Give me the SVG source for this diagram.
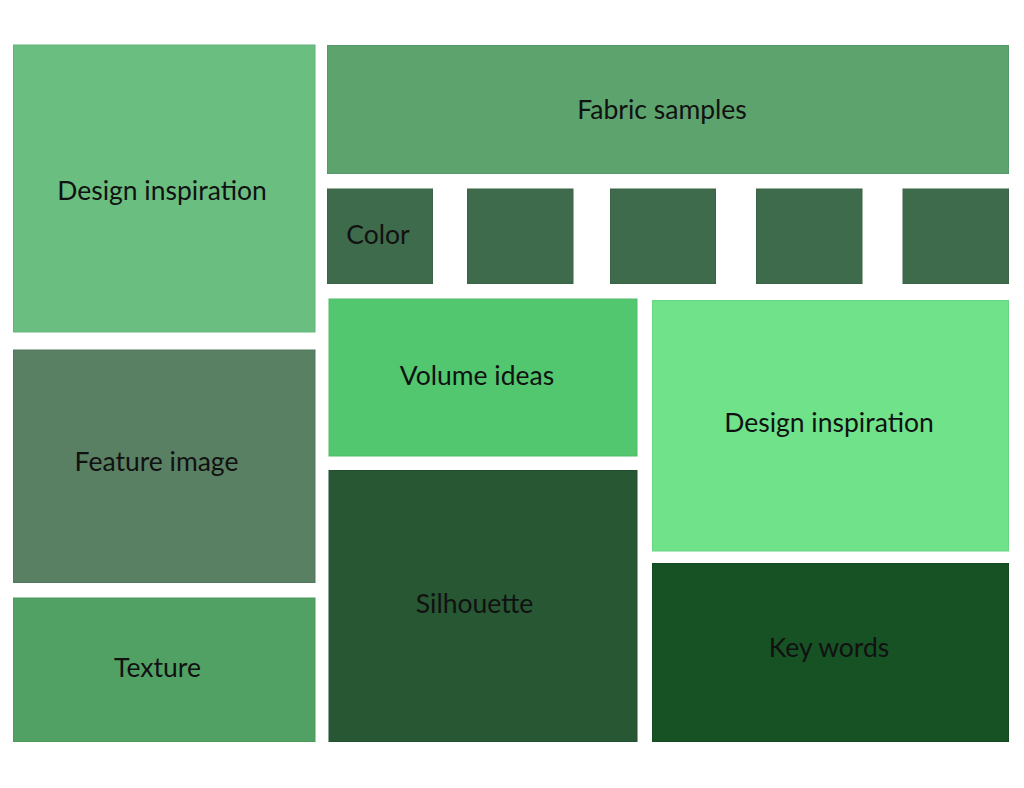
<svg xmlns="http://www.w3.org/2000/svg" width="1024" height="788" viewBox="0 0 1024 788">
<style>
.b{stroke-width:1}
.t{font-family:Lato,"Open Sans","Liberation Sans",sans-serif;font-size:26.5px;fill:#111;text-anchor:middle}
</style>
<rect width="1024" height="788" fill="#fff"/>
<g id="design-inspiration-1"><rect class="b" x="13.5" y="45" width="301.5" height="287" fill="#6ABF80" stroke="#64B47A"/><text class="t" x="162" y="200">Design inspiration</text></g>
<g id="fabric-samples"><rect class="b" x="327.5" y="45.5" width="681" height="128" fill="#5CA36D" stroke="#55986A"/><text class="t" x="662" y="119">Fabric samples</text></g>
<g id="color"><rect class="b" x="327.5" y="189" width="105" height="94.5" fill="#3E6B4B" stroke="#3A6446"/><text class="t" x="378" y="244">Color</text></g>
<g id="swatch-2"><rect class="b" x="467.5" y="189" width="105.5" height="94.5" fill="#3E6B4B" stroke="#3A6446"/></g>
<g id="swatch-3"><rect class="b" x="610.5" y="189" width="105" height="94.5" fill="#3E6B4B" stroke="#3A6446"/></g>
<g id="swatch-4"><rect class="b" x="756.5" y="189" width="105.5" height="94.5" fill="#3E6B4B" stroke="#3A6446"/></g>
<g id="swatch-5"><rect class="b" x="903" y="189" width="105.5" height="94.5" fill="#3E6B4B" stroke="#3A6446"/></g>
<g id="volume-ideas"><rect class="b" x="329" y="299" width="308" height="157" fill="#52C76F" stroke="#4DBD69"/><text class="t" x="477" y="385">Volume ideas</text></g>
<g id="design-inspiration-2"><rect class="b" x="652.5" y="300.5" width="356" height="250.5" fill="#70E28A" stroke="#6AD683"/><text class="t" x="829" y="431.5">Design inspiration</text></g>
<g id="feature-image"><rect class="b" x="13.5" y="350" width="301.5" height="232.5" fill="#5A8063" stroke="#52775C"/><text class="t" x="156.5" y="470.5">Feature image</text></g>
<g id="texture"><rect class="b" x="13.5" y="598" width="301.5" height="143.5" fill="#52A164" stroke="#4D9A5F"/><text class="t" x="157.5" y="676.5">Texture</text></g>
<g id="silhouette"><rect class="b" x="329" y="470.5" width="308" height="271" fill="#275733" stroke="#23502F"/><text class="t" x="474.5" y="613">Silhouette</text></g>
<g id="key-words"><rect class="b" x="652.5" y="563.5" width="356" height="178" fill="#175224" stroke="#134A20"/><text class="t" x="829" y="657">Key words</text></g>
<g id="connectors"/>
</svg>
